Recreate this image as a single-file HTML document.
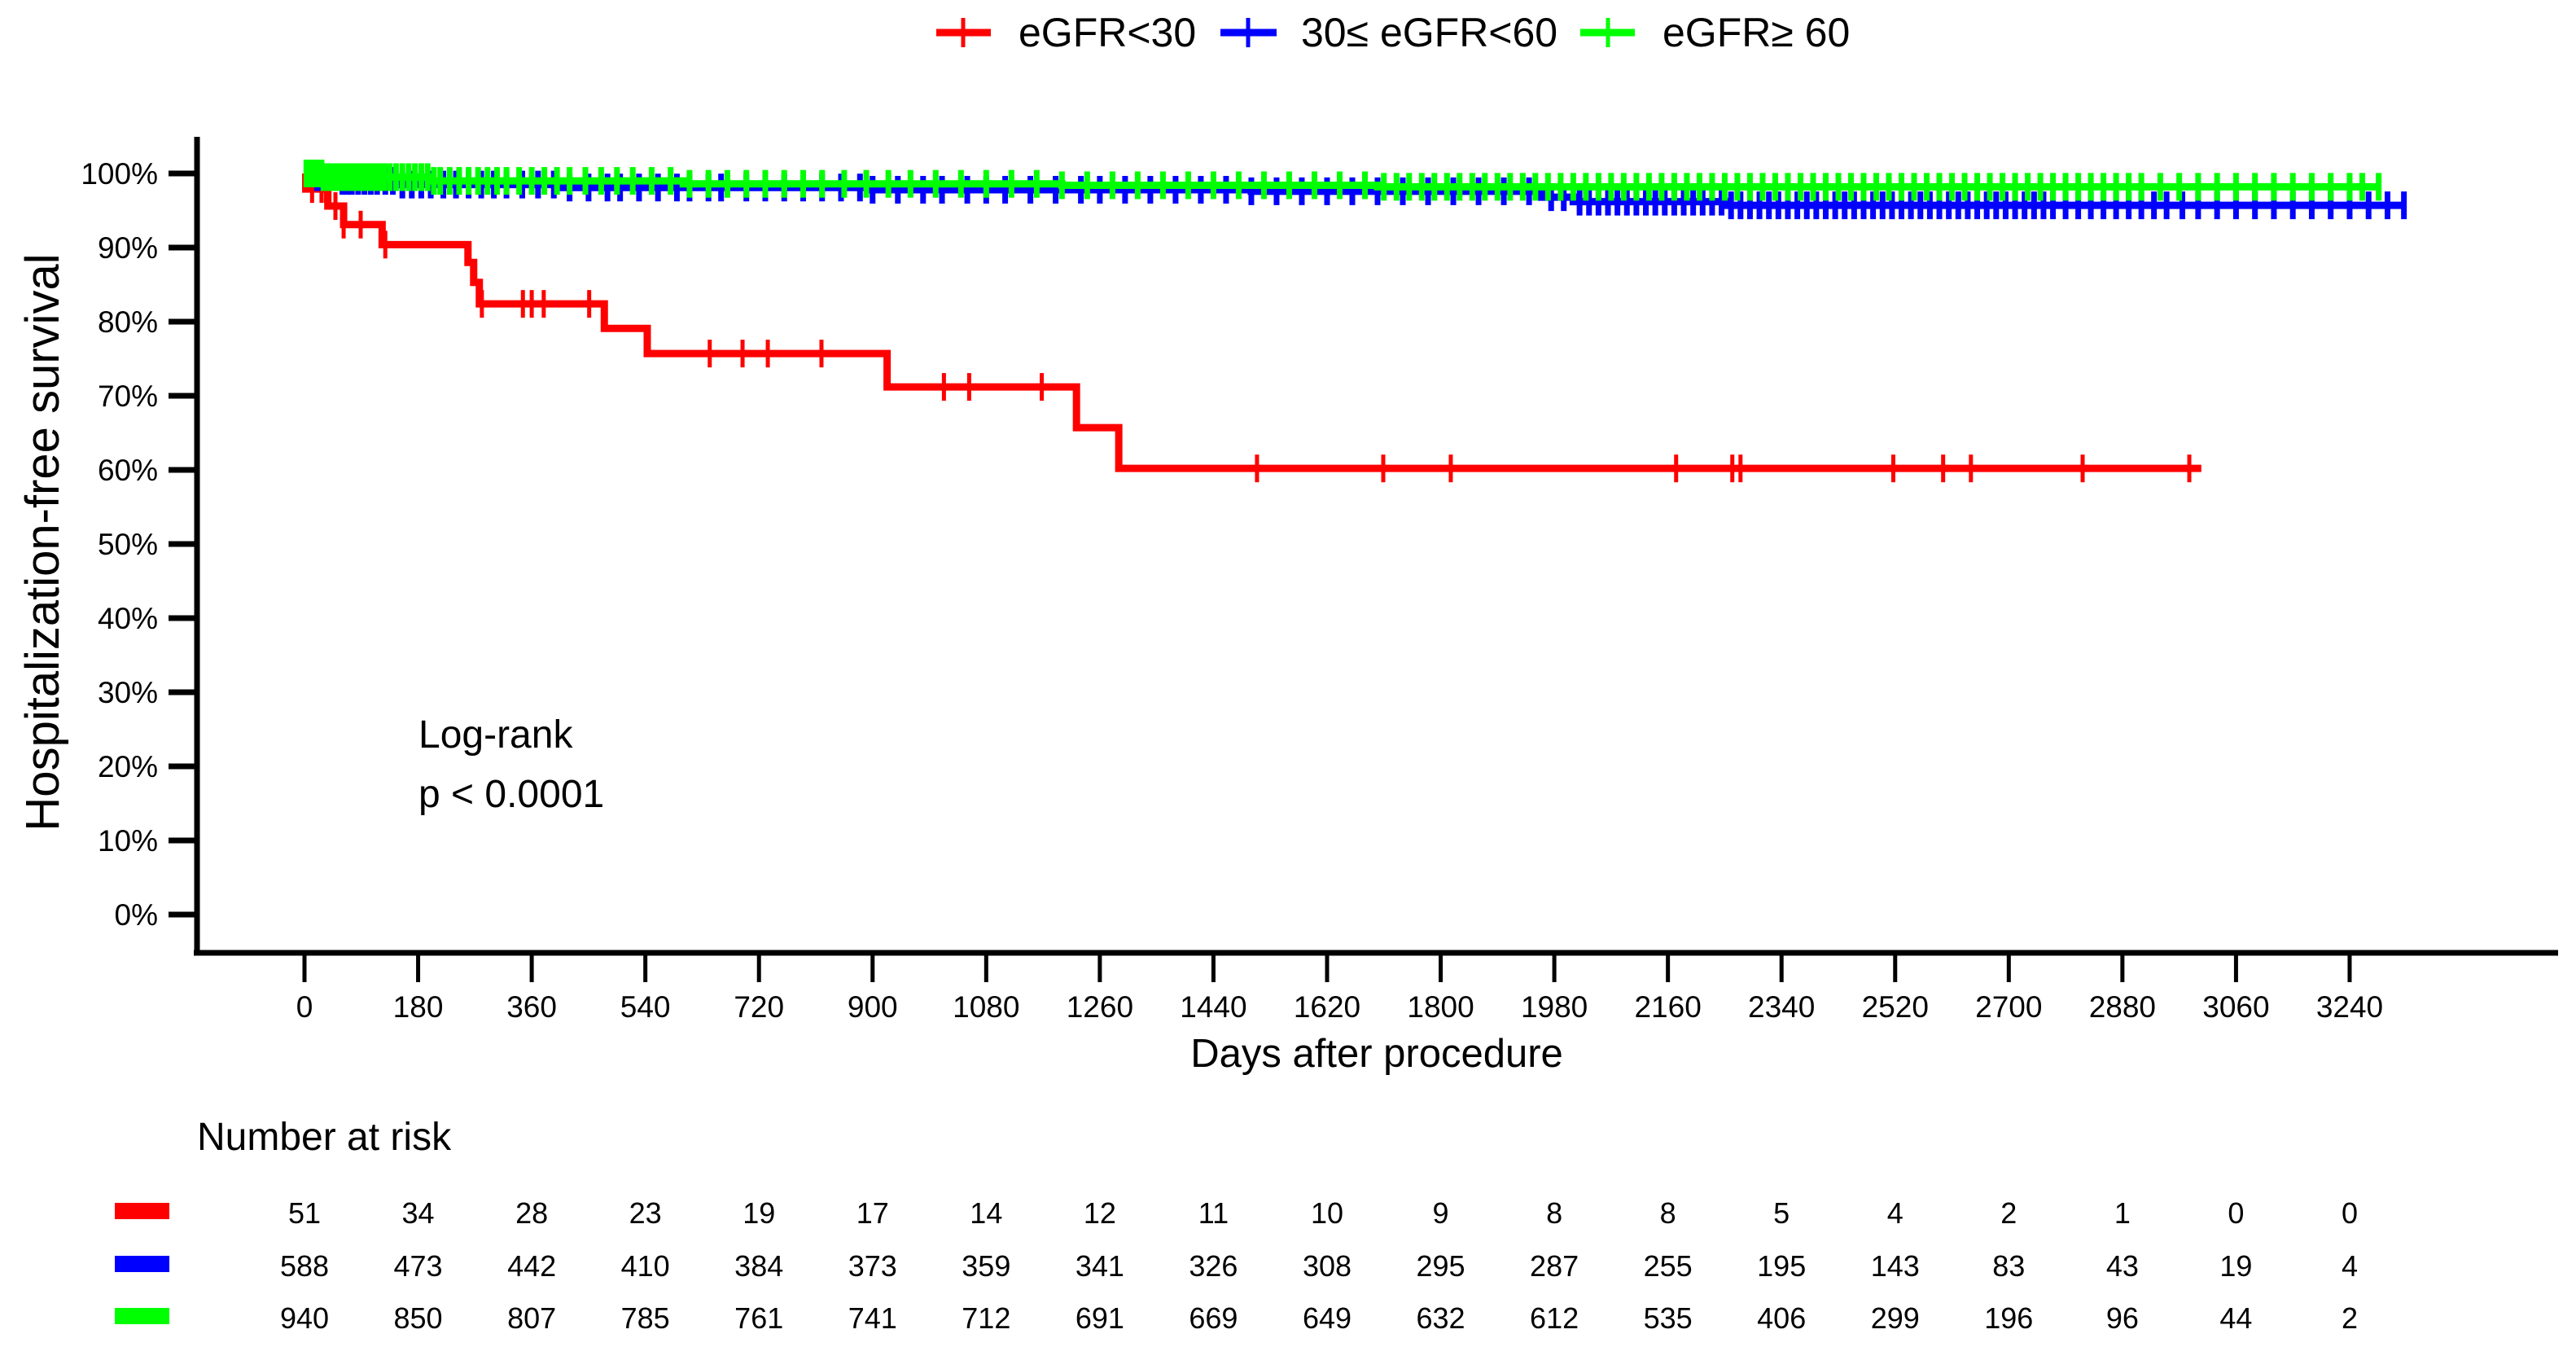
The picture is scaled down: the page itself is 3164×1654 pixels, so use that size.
<!DOCTYPE html>
<html><head><meta charset="utf-8"><style>
html,body{margin:0;padding:0;background:#fff;}
svg{display:block;font-family:"Liberation Sans",Arial,sans-serif;}
</style></head><body>
<svg id="chart" width="3164" height="1654" viewBox="0 0 3164 1654" xmlns="http://www.w3.org/2000/svg">
<g id="legend">
  <g>
    <line x1="1150" y1="40" x2="1217" y2="40" stroke="#ff0000" stroke-width="9"/>
    <line x1="1183" y1="22" x2="1183" y2="58" stroke="#ff0000" stroke-width="5"/>
    <text x="1251" y="57" font-size="50">eGFR&lt;30</text>
  </g>
  <g>
    <line x1="1499" y1="40" x2="1568" y2="40" stroke="#0000ff" stroke-width="9"/>
    <line x1="1533" y1="22" x2="1533" y2="58" stroke="#0000ff" stroke-width="5"/>
    <text x="1598" y="57" font-size="50">30≤ eGFR&lt;60</text>
  </g>
  <g>
    <line x1="1941" y1="40" x2="2008" y2="40" stroke="#00ff00" stroke-width="9"/>
    <line x1="1975" y1="22" x2="1975" y2="58" stroke="#00ff00" stroke-width="5"/>
    <text x="2042" y="57" font-size="50">eGFR≥ 60</text>
  </g>
</g>
<g id="axes"></g>
<g id="curves"></g>
<text x="0" y="0" font-size="58" text-anchor="middle" transform="translate(72,666) rotate(-90)">Hospitalization-free survival</text>
<text x="1691" y="1310" font-size="49" text-anchor="middle">Days after procedure</text>
<text x="514" y="918" font-size="48">Log-rank</text>
<text x="514" y="991" font-size="48">p &lt; 0.0001</text>
<text x="242" y="1412" font-size="48">Number at risk</text>
<g id="risk"></g>
</svg>
<script>
const xTicks = [0,180,360,540,720,900,1080,1260,1440,1620,1800,1980,2160,2340,2520,2700,2880,3060,3240];
const yTicks = [0,10,20,30,40,50,60,70,80,90,100];
const riskRed = [51,34,28,23,19,17,14,12,11,10,9,8,8,5,4,2,1,0,0];
const riskBlue = [588,473,442,410,384,373,359,341,326,308,295,287,255,195,143,83,43,19,4];
const riskGreen = [940,850,807,785,761,741,712,691,669,649,632,612,535,406,299,196,96,44,2];

const redTimes = [0,2,37,62,123,259,268,277,475,543,923,1223,1290];
const redSurv = [1.0,0.979,0.956,0.931,0.904,0.880,0.853,0.824,0.791,0.757,0.712,0.657,0.602];
const redEnd = 3005;
const redCensor = [12,27,34,49,62,89,128,281,346,360,379,451,642,694,734,819,1013,1053,1168,1509,1709,1816,2173,2262,2275,2517,2596,2640,2817,2986];

const blueTimes = [0,20,60,150,400,900,1500,1960,2010,2250];
const blueSurv = [1.0,0.995,0.99,0.985,0.981,0.978,0.976,0.968,0.962,0.957];
const blueEnd = 3326;
const blueCensor = [5,10,15,20,25,30,38,45,52,60,68,75,85,95,105,115,128,140,155,170,185,200,220,240,260,280,300,320,345,370,395,420,450,480,500,530,560,590,610,640,660,700,730,760,790,820,850,880,900,940,980,1010,1050,1080,1110,1150,1190,1230,1260,1300,1340,1380,1420,1460,1500,1540,1580,1620,1660,1700,1740,1780,1820,1860,1900,1940,1975,1995,2020,2035,2050,2065,2080,2095,2110,2125,2140,2155,2170,2185,2200,2215,2230,2245,2260,2275,2290,2305,2320,2335,2350,2365,2380,2395,2410,2425,2440,2455,2470,2485,2500,2515,2530,2545,2560,2575,2590,2605,2620,2635,2650,2665,2680,2695,2710,2725,2740,2755,2770,2790,2810,2830,2850,2870,2890,2910,2930,2950,2975,3000,3030,3060,3090,3120,3150,3180,3210,3240,3270,3300,3326];

const greenTimes = [0,30,200,600,1200,1700];
const greenSurv = [1.0,0.995,0.99,0.986,0.984,0.982];
const greenEnd = 3286;
const greenCensor = [3,6,9,12,15,18,21,24,27,30,34,38,42,46,50,55,60,65,70,76,82,88,95,102,110,118,126,135,145,155,165,175,185,195,205,215,230,245,260,275,290,305,320,340,360,380,400,420,445,470,495,520,550,580,610,640,670,700,730,760,790,820,855,890,925,960,1000,1040,1080,1120,1160,1200,1240,1280,1320,1360,1400,1440,1480,1520,1560,1600,1640,1680,1710,1730,1750,1770,1790,1810,1830,1850,1870,1890,1910,1930,1950,1970,1990,2010,2030,2050,2070,2090,2110,2130,2150,2170,2190,2210,2230,2250,2270,2290,2310,2330,2350,2370,2390,2410,2430,2450,2470,2490,2510,2530,2550,2570,2590,2610,2630,2650,2670,2690,2710,2730,2750,2770,2790,2810,2830,2850,2870,2890,2910,2940,2970,3000,3030,3060,3090,3120,3150,3180,3210,3240,3260,3286];

const NS = "http://www.w3.org/2000/svg";
function xS(d){ return 374 + d*0.7753; }
function yS(p){ return 1123 - p*9.1; }
function mk(tag, attrs, parent){
  const e = document.createElementNS(NS, tag);
  for (const k in attrs) e.setAttribute(k, attrs[k]);
  parent.appendChild(e);
  return e;
}
const axes = document.getElementById('axes');
let yAxis = mk('line',{x1:242,y1:168,x2:242,y2:1173,stroke:'#000','stroke-width':7},axes);


let xAxis = mk('line',{x1:238,y1:1170,x2:3142,y2:1170,stroke:'#000','stroke-width':7},axes);


yTicks.forEach(v=>{
  const y = yS(v);
  let t = mk('line',{x1:207,y1:y,x2:242,y2:y,stroke:'#000','stroke-width':7},axes);
  
  
  let l = mk('text',{x:194,y:y+13,'font-size':37,'text-anchor':'end'},axes);
  l.textContent = v+'%';
  
  
});
xTicks.forEach(v=>{
  const x = xS(v);
  let t = mk('line',{x1:x,y1:1170,x2:x,y2:1206,stroke:'#000','stroke-width':5},axes);
  
  
  let l = mk('text',{x:x,y:1249,'font-size':37,'text-anchor':'middle'},axes);
  l.textContent = v;
  
  
});

const curves = document.getElementById('curves');
function survAt(times, surv, d){
  let s = surv[0];
  for (let i=0;i<times.length;i++){ if (times[i] <= d) s = surv[i]; }
  return s;
}
function drawCurve(name, color, times, surv, end, censor, cw){
  const g = mk('g',{},curves);
  
  
  let d = 'M'+xS(times[0])+','+yS(surv[0]*100);
  for (let i=1;i<times.length;i++){
    d += ' H'+xS(times[i])+' V'+yS(surv[i]*100);
  }
  d += ' H'+xS(end);
  const p = mk('path',{d:d,fill:'none',stroke:color,'stroke-width':9,'stroke-linejoin':'miter'},g);
  
  
  censor.forEach(c=>{
    const x = xS(c), y = yS(survAt(times,surv,c)*100);
    const m = mk('line',{x1:x,y1:y-17,x2:x,y2:y+17,stroke:color,'stroke-width':cw},g);
    
    
  });
}
drawCurve('curve-egfr-lt30','#ff0000',redTimes,redSurv,redEnd,redCensor,5);
drawCurve('curve-egfr-30-60','#0000ff',blueTimes,blueSurv,blueEnd,blueCensor,7);
drawCurve('curve-egfr-ge60','#00ff00',greenTimes,greenSurv,greenEnd,greenCensor,7);

const risk = document.getElementById('risk');
const rows = [[riskRed,'#ff0000',1489,'risk-row-egfr-lt30'],[riskBlue,'#0000ff',1554,'risk-row-egfr-30-60'],[riskGreen,'#00ff00',1618,'risk-row-egfr-ge60']];
rows.forEach(r=>{
  const sw = mk('rect',{x:141,y:r[2]-12,width:67,height:20,fill:r[1]},risk);
  
  
  r[0].forEach((v,i)=>{
    const t = mk('text',{x:xS(xTicks[i]),y:r[2]+13,'font-size':36,'text-anchor':'middle'},risk);
    t.textContent = v;
    
    
  });
});
</script>
</body></html>
